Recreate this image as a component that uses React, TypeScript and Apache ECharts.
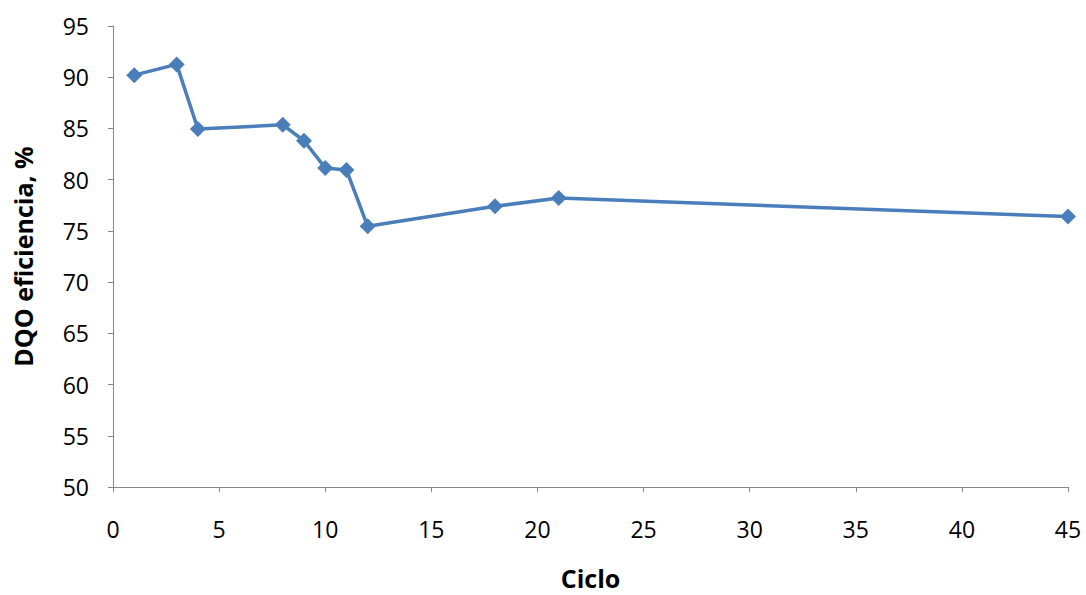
import React, { useEffect, useRef } from "react";
import * as echarts from "echarts";

const ciclos = [1, 3, 4, 8, 9, 10, 11, 12, 18, 21, 45];
const eficiencia = [90.2, 91.25, 84.95, 85.35, 83.8, 81.15, 80.95, 75.45, 77.4, 78.2, 76.4];
const xTitle = "Ciclo";
const yTitle = "DQO eficiencia, %";

export default function App() {
  const ref = useRef<HTMLDivElement>(null);
  useEffect(() => {
    if (!ref.current) return;
    const chart = echarts.init(ref.current, null, { renderer: "svg" });
    const font = "'Open Sans', 'Noto Sans', sans-serif";
    chart.setOption({
      animation: false,
      grid: { left: 113, right: 18, top: 26, bottom: 106, containLabel: false },
      xAxis: {
        type: "value",
        min: 0,
        max: 45,
        interval: 5,
        name: xTitle,
        nameLocation: "middle",
        nameGap: 78,
        nameTextStyle: { fontSize: 25, fontWeight: "bold", color: "#000", fontFamily: font },
        axisLine: { show: true, lineStyle: { color: "#868686", width: 1 } },
        axisTick: { show: true, inside: false, length: 5, lineStyle: { color: "#868686" } },
        axisLabel: { fontSize: 23, color: "#000", fontFamily: font, margin: 30 },
        splitLine: { show: false },
      },
      yAxis: {
        type: "value",
        min: 50,
        max: 95,
        interval: 5,
        name: yTitle,
        nameLocation: "middle",
        nameGap: 78,
        nameRotate: 90,
        nameTextStyle: { fontSize: 25, fontWeight: "bold", color: "#000", fontFamily: font },
        axisLine: { show: true, lineStyle: { color: "#868686", width: 1 } },
        axisTick: { show: true, inside: false, length: 5, lineStyle: { color: "#868686" } },
        axisLabel: { fontSize: 23, color: "#000", fontFamily: font, margin: 24 },
        splitLine: { show: false },
      },
      series: [
        {
          type: "line",
          data: ciclos.map((c, i) => [c, eficiencia[i]]),
          symbol: "diamond",
          symbolSize: 16,
          lineStyle: { color: "#4A7EBB", width: 3.5 },
          itemStyle: { color: "#4A7EBB" },
        },
      ],
    });
    return () => chart.dispose();
  }, []);
  return <div ref={ref} style={{ width: 1086, height: 595, position: "absolute", left: 0, top: 0 }} />;
}
